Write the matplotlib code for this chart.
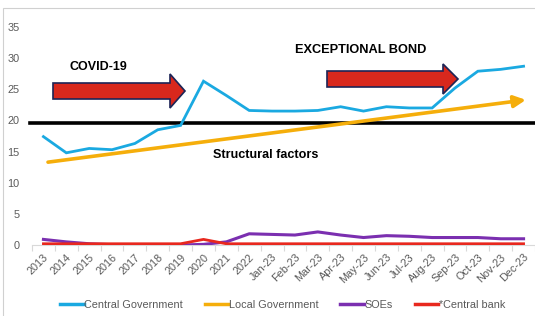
import matplotlib
matplotlib.use("Agg")
import matplotlib.pyplot as plt
from matplotlib.patches import Rectangle
from matplotlib.lines import Line2D

categories = ["2013", "2014", "2015", "2016", "2017", "2018", "2019", "2020", "2021", "2022",
              "Jan-23", "Feb-23", "Mar-23", "Apr-23", "May-23", "Jun-23", "Jul-23", "Aug-23",
              "Sep-23", "Oct-23", "Nov-23", "Dec-23"]
central_gov = [17.4, 14.8, 15.5, 15.3, 16.3, 18.5, 19.2, 26.3, 24.0, 21.6,
               21.5, 21.5, 21.6, 22.2, 21.5, 22.2, 22.0, 22.0, 25.2, 27.9, 28.2, 28.7]
soes = [0.9, 0.5, 0.2, 0.05, 0.0, 0.0, 0.0, 0.1, 0.5, 1.8,
        1.7, 1.6, 2.1, 1.6, 1.2, 1.5, 1.4, 1.2, 1.2, 1.2, 1.0, 1.0]
central_bank = [0.2, 0.2, 0.2, 0.2, 0.2, 0.2, 0.2, 0.9, 0.2, 0.2,
                0.2, 0.2, 0.2, 0.2, 0.2, 0.2, 0.2, 0.2, 0.2, 0.2, 0.2, 0.2]
# Structural-factors trend (drawn as orange arrow) start/end
trend_x = [0.2, 21.1]
trend_y = [13.3, 23.3]
threshold = 19.6
y_ticks = [0, 5, 10, 15, 20, 25, 30, 35]

C_BLUE = "#1AA9E1"
C_ORANGE = "#F5AE0B"
C_PURPLE = "#7B2FB0"
C_RED = "#E8281E"
GREY = "#595959"

plt.rcParams["font.family"] = ["Liberation Sans", "DejaVu Sans"]

W, H = 535, 316
fig = plt.figure(figsize=(W / 100, H / 100), dpi=100)
ax = fig.add_axes([32 / W, 1 - 245 / H, (W - 32) / W, (245 - 27) / H])
ax.set_xlim(-0.47, 21.22)
ax.set_ylim(0, 35)
ax.patch.set_alpha(0)

x = list(range(len(categories)))
ax.plot(x, central_gov, color=C_BLUE, lw=2.0, solid_joinstyle="miter", zorder=4)
ax.plot(x, soes, color=C_PURPLE, lw=2.2, zorder=4)
ax.plot(x, central_bank, color=C_RED, lw=2.0, zorder=5)

# horizontal black threshold line
ax.plot([-0.6, 22], [threshold, threshold], color="black", lw=2.6, zorder=3, clip_on=False)

# orange trend arrow
ax.annotate("", xy=(trend_x[1], trend_y[1]), xytext=(trend_x[0], trend_y[0]),
            arrowprops=dict(arrowstyle="-|>,head_length=0.7,head_width=0.35",
                            color=C_ORANGE, lw=2.6, shrinkA=0, shrinkB=0), zorder=3)

# red block arrows (figure pixel coords)
def px_arrow(x0, x1, yc, body_h, head_h, head_l):
    xs = [x0 / W, (x1 - head_l) / W, (x1 - head_l) / W, x1 / W,
          (x1 - head_l) / W, (x1 - head_l) / W, x0 / W]
    ys = [yc + body_h / 2, yc + body_h / 2, yc + head_h / 2, yc,
          yc - head_h / 2, yc - body_h / 2, yc - body_h / 2]
    ys = [1 - v / H for v in ys]
    fig.patches.append(plt.Polygon(list(zip(xs, ys)), closed=True, facecolor="#D8281D",
                                   edgecolor="#1C2456", lw=1.2, transform=fig.transFigure,
                                   zorder=6))

px_arrow(53, 185, 91, 16, 34, 15)
px_arrow(327, 458, 79, 16, 30, 15)

fig.text(69 / W, 1 - 67 / H, "COVID-19", fontsize=9, fontweight="bold", va="center", ha="left")
fig.text(295 / W, 1 - 50 / H, "EXCEPTIONAL BOND", fontsize=9.2, fontweight="bold", va="center", ha="left")
fig.text(213 / W, 1 - 155 / H, "Structural factors", fontsize=9.1, fontweight="bold", va="center", ha="left")

# axes styling
for s in ["top", "right", "left"]:
    ax.spines[s].set_visible(False)
ax.spines["bottom"].set_color("#D9D9D9")
ax.spines["bottom"].set_linewidth(0.8)
ax.set_yticks(y_ticks)
ax.set_yticklabels([str(v) for v in y_ticks], color=GREY, fontsize=7.8)
ax.tick_params(axis="y", length=0, pad=9)
ax.set_xticks(x)
ax.set_xticklabels(categories, rotation=45, ha="right", va="top", rotation_mode="anchor",
                   color=GREY, fontsize=7.8)
ax.tick_params(axis="x", length=0, pad=5)
ax.set_xticks([i - 0.5 for i in range(len(categories) + 1)], minor=True)
ax.tick_params(axis="x", which="minor", length=4, color="#D9D9D9", width=0.8)

# legend
handles = [Line2D([], [], color=C_BLUE, lw=2.5), Line2D([], [], color=C_ORANGE, lw=2.5),
           Line2D([], [], color=C_PURPLE, lw=2.5), Line2D([], [], color=C_RED, lw=2.5)]
labels = ["Central Government", "Local Government", "SOEs", "*Central bank"]
fig.legend(handles, labels, loc="center", bbox_to_anchor=(0.5 + 15 / W, 1 - 305 / H), ncol=4,
           frameon=False, fontsize=7.8, handlelength=2.2, handletextpad=0.05,
           columnspacing=2.0, labelcolor=GREY)

# outer border
fig.patches.append(Rectangle((3 / W, -0.1), 1.1, 1 - 8 / H + 0.1, transform=fig.transFigure,
                             fill=False, edgecolor="#D0D0D0", lw=0.8, zorder=0))

fig.savefig("out.png", dpi=100)
